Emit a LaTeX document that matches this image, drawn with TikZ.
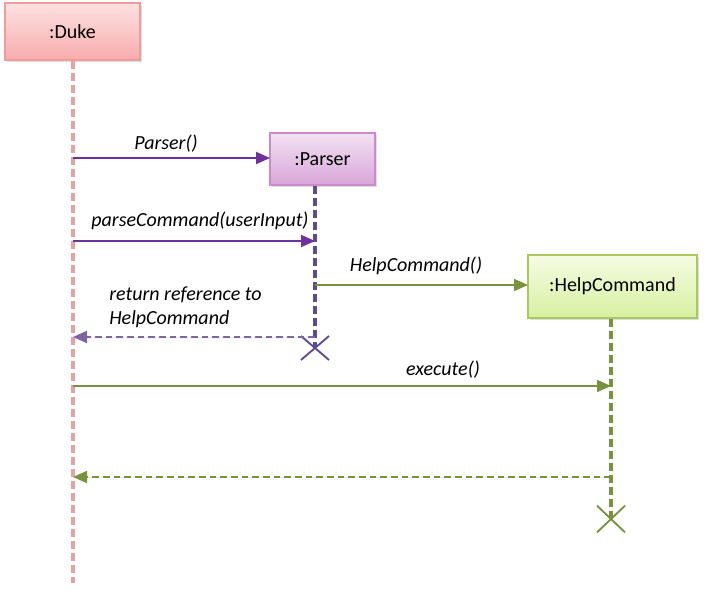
\documentclass[tikz,border=0pt]{standalone}
\usepackage{fontspec}
\setmainfont{Carlito}
\usetikzlibrary{arrows.meta,shadows}
\definecolor{dukeB}{HTML}{F29B9B}
\definecolor{dukeT}{HTML}{FDE2E2}
\definecolor{dukeM}{HTML}{F8ABAB}
\definecolor{dukeL}{HTML}{E2A3A3}
\definecolor{parB}{HTML}{CC8ACC}
\definecolor{parT}{HTML}{F2E2F2}
\definecolor{parM}{HTML}{D9A6D9}
\definecolor{parL}{HTML}{5F4B8B}
\definecolor{hcB}{HTML}{A9C95F}
\definecolor{hcT}{HTML}{F5FCE3}
\definecolor{hcM}{HTML}{D7F0A0}
\definecolor{green1}{HTML}{77933C}
\definecolor{purp}{HTML}{7030A0}
\definecolor{purpR}{HTML}{8064A2}
\tikzset{
  obj/.style={draw, line width=1.5pt, minimum height=#1, inner sep=0pt,
    font=\fontsize{15}{18}\selectfont, drop shadow={opacity=0.25, shadow xshift=1.5pt, shadow yshift=-1.5pt}},
  life/.style={line width=2.6pt, dash pattern=on 6pt off 3pt},
  msg/.style={line width=1.4pt, -{Triangle[length=10.5pt,width=9pt]}},
  ret/.style={line width=1.4pt, dash pattern=on 5pt off 3pt, -{Triangle[length=10.5pt,width=9pt]}},
  lbl/.style={font=\fontsize{15}{18}\selectfont\itshape, inner sep=0pt},
  xmark/.style={line width=1.4pt}
}
\begin{document}
\begin{tikzpicture}[x=0.75pt,y=-0.75pt]
\useasboundingbox (0,0) rectangle (720,593);
% objects
\node[obj=57*0.75pt, minimum width=135*0.75pt, draw=dukeB, top color=dukeT, bottom color=dukeM] (duke) at (72.5,31.5) {:Duke};
\node[obj=52*0.75pt, minimum width=105*0.75pt, draw=parB, top color=parT, bottom color=parM] (parser) at (322.5,159) {:Parser};
\node[obj=63*0.75pt, minimum width=169*0.75pt, draw=hcB, top color=hcT, bottom color=hcM] (hc) at (612.5,286.5) {:HelpCommand};
% lifeline ends
\coordinate (dukeEnd) at (73,583);
\coordinate (parEnd) at (315,348);
\coordinate (hcEnd) at (611,519);
\coordinate (dukeTop) at (73,61);
\coordinate (parTop) at (315,186);
\coordinate (hcTop) at (611,319);
% lifelines
\draw[life, draw=dukeL] (dukeTop) -- (dukeEnd);
\draw[life, draw=parL] (parTop) -- (parEnd);
\draw[life, draw=green1] (hcTop) -- (hcEnd);
% X marks
\draw[xmark, draw=parL] ([xshift=-10.5pt,yshift=9pt]parEnd) -- ([xshift=10.5pt,yshift=-9pt]parEnd)
  ([xshift=-10.5pt,yshift=-9pt]parEnd) -- ([xshift=10.5pt,yshift=9pt]parEnd);
\draw[xmark, draw=green1] ([xshift=-10.5pt,yshift=10pt]hcEnd) -- ([xshift=10.5pt,yshift=-10pt]hcEnd)
  ([xshift=-10.5pt,yshift=-10pt]hcEnd) -- ([xshift=10.5pt,yshift=10pt]hcEnd);
% message points
\coordinate (m1a) at (73,158); \coordinate (m1b) at (270,158);
\coordinate (m2a) at (73,241); \coordinate (m2b) at (315,241);
\coordinate (m3a) at (315,285); \coordinate (m3b) at (528,285);
\coordinate (m4a) at (315,337); \coordinate (m4b) at (73,337);
\coordinate (m5a) at (73,386); \coordinate (m5b) at (611,386);
\coordinate (m6a) at (611,477); \coordinate (m6b) at (73,477);
\draw[msg, draw=purp, fill=purp] (m1a) -- (m1b);
\draw[msg, draw=purp, fill=purp] (m2a) -- (m2b);
\draw[msg, draw=green1, fill=green1] (m3a) -- (m3b);
\draw[ret, draw=purpR, fill=purpR] (m4a) -- (m4b);
\draw[msg, draw=green1, fill=green1] (m5a) -- (m5b);
\draw[ret, draw=green1, fill=green1] (m6a) -- (m6b);
% labels
\node[lbl] (l1) at (166,144) {Parser()};
\node[lbl] (l2) at (200,221) {parseCommand(userInput)};
\node[lbl] (l3) at (416,266) {HelpCommand()};
\node[lbl, anchor=west, align=left] (l4) at (109,307) {return reference to\\HelpCommand};
\node[lbl] (l5) at (443,370) {execute()};
\end{tikzpicture}
\end{document}
